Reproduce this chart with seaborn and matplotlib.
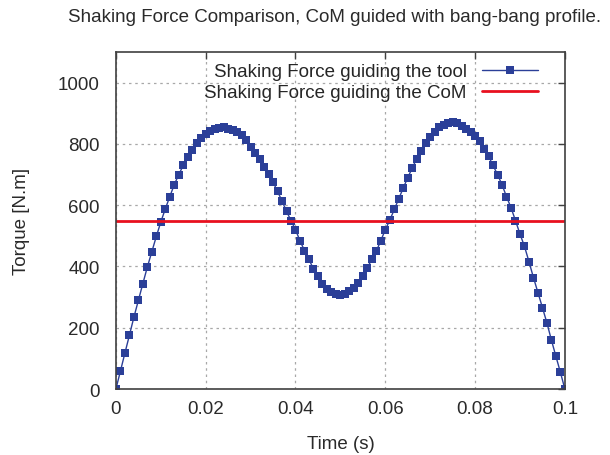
import matplotlib
matplotlib.use('Agg')
import matplotlib.pyplot as plt
import seaborn as sns
import pandas as pd

# time samples (s), one every millisecond
time_s = [i / 1000 for i in range(101)]

# shaking force when guiding the tool
tool_force = [
    0, 58, 117, 175, 234, 289, 344, 398, 448, 498,
    545, 588, 628, 667, 700, 730, 756, 781, 804, 821,
    834, 843, 848, 853, 854, 850, 846, 839, 828, 812,
    790, 772, 750, 726, 702, 676, 645, 614, 580, 550,
    520, 484, 452, 423, 392, 368, 344, 327, 317, 310,
    308, 310, 319, 330, 346, 368, 396, 423, 450, 484,
    520, 551, 586, 621, 656, 690, 721, 752, 777, 803,
    823, 839, 856, 863, 867, 870, 867, 858, 848, 839,
    825, 808, 785, 760, 730, 700, 667, 628, 592, 550,
    506, 466, 416, 364, 315, 266, 216, 160, 107, 55,
    0,
]

# shaking force when guiding the CoM (constant)
com_time = [0, 0.1]
com_force = [550, 550]

x_ticks = [0, 0.02, 0.04, 0.06, 0.08, 0.1]
x_tick_labels = ['0', '0.02', '0.04', '0.06', '0.08', '0.1']
y_ticks = [0, 200, 400, 600, 800, 1000]

df_tool = pd.DataFrame({'time': time_s, 'force': tool_force})
df_com = pd.DataFrame({'time': com_time, 'force': com_force})

sns.set_style('white')
plt.rcParams['font.family'] = ['Liberation Sans', 'DejaVu Sans']

fig = plt.figure(figsize=(6.1, 4.56), dpi=100)
ax = fig.add_axes([0.190, 0.1447, 0.736, 0.739])

sns.lineplot(data=df_tool, x='time', y='force', ax=ax, color='#2b3f98', linewidth=1.0,
             marker='s', markersize=5.2, markeredgewidth=0, label='Shaking Force guiding the tool')
sns.lineplot(data=df_com, x='time', y='force', ax=ax, color='#e8101f', linewidth=2.0,
             label='Shaking Force guiding the CoM')

ax.set_xlim(0, 0.1)
ax.set_ylim(0, 1100)
ax.set_xticks(x_ticks)
ax.set_xticklabels(x_tick_labels)
ax.set_yticks(y_ticks)

ax.grid(True, color='#a8a8a8', linestyle=(0, (2, 3)), linewidth=0.9)
ax.set_axisbelow(True)
for s in ax.spines.values():
    s.set_color('#404040')
    s.set_linewidth(1.2)
ax.tick_params(direction='in', top=True, right=True, length=5, width=1, color='#404040',
               labelsize=13.5, labelcolor='#2a2a2a')
ax.tick_params(axis='y', pad=11.5)
ax.tick_params(axis='x', pad=8)

ax.set_xlabel('Time (s)', fontsize=13.5, color='#2a2a2a', labelpad=13)
ax.set_ylabel('Torque [N.m]', fontsize=13.5, color='#2a2a2a', labelpad=20)
fig.text(0.549, 0.962, 'Shaking Force Comparison, CoM guided with bang-bang profile.',
         ha='center', va='center', fontsize=13.5, color='#2a2a2a')

ax.legend(loc='upper right', frameon=False, markerfirst=False, fontsize=13.5,
          handlelength=3.0, handletextpad=0.8, borderaxespad=0.2, labelspacing=0.2,
          bbox_to_anchor=(0.965, 1.0))

plt.savefig('out.png', dpi=100)
